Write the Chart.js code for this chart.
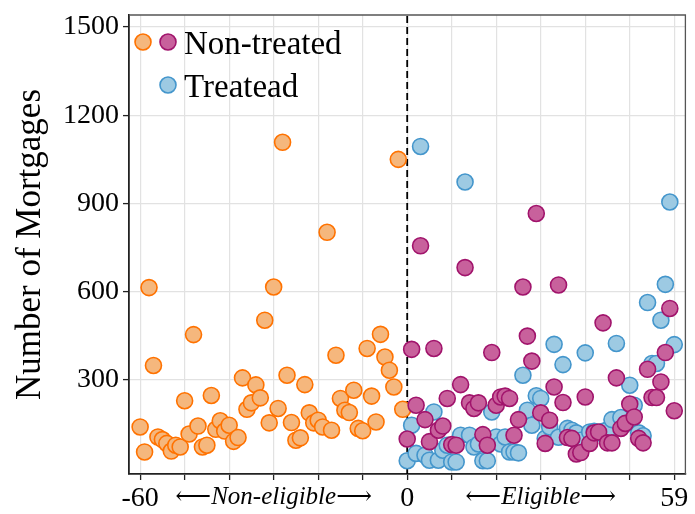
<!DOCTYPE html>
<html>
<head>
<meta charset="utf-8">
<script src="https://cdn.jsdelivr.net/npm/chart.js@4.4.1/dist/chart.umd.min.js"></script>
<style>
  html, body { margin: 0; padding: 0; background: #fff; }
  #wrap { width: 695px; height: 514px; }
</style>
</head>
<body>
<div id="wrap"><canvas id="chart" width="695" height="514"></canvas></div>
<script>
// months relative to eligibility cutoff
const monthsBefore = [-60,-59,-58,-57,-56,-55,-54,-53,-52,-51,-50,-49,-48,-47,-46,-45,-44,-43,-42,-41,
  -40,-39,-38,-37,-36,-35,-34,-33,-32,-31,-30,-29,-28,-27,-26,-25,-24,-23,-22,-21,
  -20,-19,-18,-17,-16,-15,-14,-13,-12,-11,-10,-9,-8,-7,-6,-5,-4,-3,-2,-1];
const nonEligible = [140,55,614,349,106,97,84,58,78,72,229,116,454,143,72,78,247,132,161,126,
  146,91,104,307,200,222,283,239,503,154,616,203,1108,316,155,95,103,284,188,154,
  163,140,802,129,384,237,197,189,265,135,127,407,245,157,455,378,333,276,1050,200];

const monthsAfter = [0,1,2,3,4,5,6,7,8,9,10,11,12,13,14,15,16,17,18,19,
  20,21,22,23,24,25,26,27,28,29,30,31,32,33,34,35,36,37,38,39,
  40,41,42,43,44,45,46,47,48,49,50,51,52,53,54,55,56,57,58,59,60];
const nonTreated = [99,404,214,756,165,90,407,129,143,237,80,78,284,682,222,203,222,114,78,393,
  214,242,245,237,112,165,616,449,364,866,188,84,163,276,623,223,104,101,48,53,
  242,84,120,123,494,86,86,307,135,152,218,174,101,86,336,240,240,293,393,543,195];
const treated = [25,146,50,1094,44,27,191,27,61,78,21,21,112,973,112,72,82,25,25,191,
  106,82,106,55,55,52,316,197,146,246,237,101,140,421,105,352,135,129,120,95,
  392,123,125,120,125,130,165,424,172,150,282,214,120,110,563,356,356,503,625,905,420];

const xTicks = [-60,-50,-40,-30,-20,-10,0,10,20,30,40,50,60];
const xTickLabels = {"-60": "-60", "-30": "\u27f5Non-eligible\u27f6", "0": "0", "30": "\u27f5Eligible\u27f6", "60": "59"};
const yTicks = [300, 600, 900, 1200, 1500];

const FONT = "'Liberation Serif', 'DejaVu Serif', serif";
const ORANGE = { fill: "#f5b77d", line: "#ff7200" };
const PURPLE = { fill: "#c8619c", line: "#a1146c" };
const BLUE = { fill: "#9dcae3", line: "#4496cc" };

const pts = (xs, ys) => xs.map((x, i) => ({ x, y: ys[i] }));

function ds(label, data, c) {
  return {
    label, data,
    backgroundColor: c.fill, borderColor: c.line, borderWidth: 1.6,
    pointRadius: 8, pointHoverRadius: 8
  };
}

// cutoff line, frame and legend
const extras = {
  id: "extras",
  beforeDatasetsDraw(chart) {
    const { ctx, chartArea: a, scales: { x } } = chart;
    const px = x.getPixelForValue(0);
    ctx.save();
    ctx.strokeStyle = "#000";
    ctx.lineWidth = 1.8;
    ctx.setLineDash([7, 4]);
    ctx.beginPath();
    ctx.moveTo(px, a.bottom);
    ctx.lineTo(px, a.top);
    ctx.stroke();
    ctx.restore();
  },
  afterDatasetsDraw(chart) {
    const { ctx, chartArea: a } = chart;
    ctx.save();
    ctx.strokeStyle = "#555";
    ctx.lineWidth = 1.3;
    ctx.beginPath();
    ctx.moveTo(a.left, a.top);
    ctx.lineTo(a.right, a.top);
    ctx.lineTo(a.right, a.bottom);
    ctx.stroke();

    const dot = (cx, cy, c) => {
      ctx.beginPath();
      ctx.arc(cx, cy, 8, 0, Math.PI * 2);
      ctx.fillStyle = c.fill; ctx.fill();
      ctx.lineWidth = 1.6; ctx.strokeStyle = c.line; ctx.stroke();
    };
    dot(a.left + 14, a.top + 27, ORANGE);
    dot(a.left + 39, a.top + 27, PURPLE);
    dot(a.left + 39, a.top + 70, BLUE);
    ctx.fillStyle = "#000";
    ctx.font = "33px " + FONT;
    ctx.textBaseline = "middle";
    ctx.textAlign = "left";
    ctx.fillText("Non-treated", a.left + 55, a.top + 30);
    ctx.fillText("Treatead", a.left + 55, a.top + 73);
    ctx.restore();
  }
};

new Chart(document.getElementById("chart"), {
  type: "scatter",
  data: {
    datasets: [
      ds("Non-treated", pts(monthsAfter, nonTreated), PURPLE),
      ds("Treatead", pts(monthsAfter, treated), BLUE),
      ds("Non-eligible", pts(monthsBefore, nonEligible), ORANGE)
    ]
  },
  options: {
    responsive: false,
    animation: false,
    layout: { padding: { left: 0, right: 0, top: 15, bottom: 0 } },
    plugins: { legend: { display: false }, tooltip: { enabled: false } },
    scales: {
      x: {
        type: "linear", min: -62.5, max: 62.5,
        afterBuildTicks: s => { s.ticks = xTicks.map(v => ({ value: v })); },
        afterFit: s => { s.height = 40; s.paddingLeft = 0; s.paddingRight = 0; },
        grid: { color: "#e2e2e2", lineWidth: 1.2, tickColor: "#222", tickLength: 6, tickWidth: 1.3 },
        border: { color: "#222", width: 1.8 },
        ticks: {
          color: "#000", padding: 2, maxRotation: 0, autoSkip: false,
          callback: v => xTickLabels[String(v)] ?? "",
          font: c => (c.tick && Math.abs(c.tick.value) === 30)
            ? { family: FONT, size: 25, style: "italic" }
            : { family: FONT, size: 28 }
        }
      },
      y: {
        type: "linear", min: -20, max: 1541,
        afterBuildTicks: s => { s.ticks = yTicks.map(v => ({ value: v })); },
        afterFit: s => { s.width = 129; s.paddingTop = 0; s.paddingBottom = 0; },
        grid: { color: "#e2e2e2", lineWidth: 1.2, tickColor: "#222", tickLength: 6, tickWidth: 1.3 },
        border: { color: "#222", width: 1.8 },
        ticks: { color: "#000", padding: 4, font: { family: FONT, size: 28 }, callback: v => String(v) },
        title: { display: true, text: "Number of Mortgages", color: "#000", font: { family: FONT, size: 35 }, padding: { top: 10, bottom: 0 } }
      }
    }
  },
  plugins: [extras]
});
</script>
</body>
</html>
